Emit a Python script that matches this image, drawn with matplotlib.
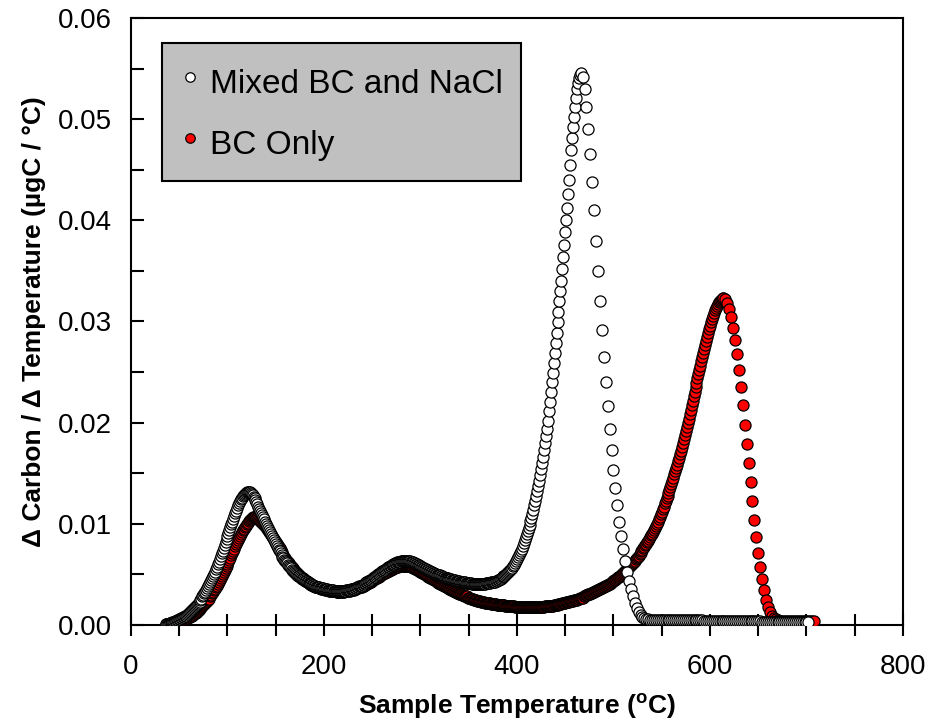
import numpy as np
import matplotlib
matplotlib.use("Agg")
import matplotlib.pyplot as plt
from matplotlib.ticker import MultipleLocator

plt.rcParams['font.family'] = ['Liberation Sans', 'DejaVu Sans']
plt.rcParams['mathtext.fontset'] = 'custom'
plt.rcParams['mathtext.rm'] = 'Liberation Sans'
plt.rcParams['mathtext.bf'] = 'Liberation Sans:bold'

# readings in units of 1e-4 ugC/degC
# mixed: every 1 degC up to the peak, then every 2 degC
mixed_temp = list(range(36, 467)) + list(range(468, 703, 2))
mixed_bc_nacl = [
    1, 1, 1, 1, 2, 2, 2, 3, 3, 3,
    4, 4, 5, 5, 6, 6, 7, 7, 8, 8,
    9, 9, 10, 11, 12, 13, 14, 15, 16, 17,
    18, 19, 20, 21, 22, 23, 25, 26, 28, 29,
    31, 32, 34, 36, 38, 40, 42, 44, 46, 48,
    50, 52, 55, 57, 60, 62, 65, 68, 71, 73,
    76, 79, 82, 85, 88, 91, 94, 97, 100, 102,
    105, 108, 111, 113, 116, 118, 120, 122, 124, 125,
    127, 128, 129, 130, 131, 131, 131, 131, 130, 129,
    128, 126, 125, 123, 121, 119, 117, 115, 113, 111,
    109, 107, 105, 102, 100, 98, 96, 94, 92, 90,
    88, 86, 84, 82, 80, 78, 76, 74, 73, 71,
    69, 67, 66, 64, 63, 62, 61, 59, 58, 57,
    56, 54, 53, 52, 51, 50, 49, 48, 48, 47,
    46, 45, 45, 44, 43, 43, 42, 42, 41, 41,
    40, 40, 39, 39, 38, 38, 37, 37, 37, 37,
    36, 36, 36, 36, 35, 35, 35, 35, 34, 34,
    34, 34, 34, 34, 33, 33, 33, 33, 33, 33,
    33, 33, 33, 33, 33, 33, 33, 34, 34, 34,
    34, 34, 35, 35, 35, 35, 36, 36, 37, 37,
    38, 38, 38, 38, 39, 39, 40, 41, 42, 42,
    43, 43, 44, 44, 45, 46, 47, 47, 48, 49,
    50, 50, 51, 52, 53, 53, 54, 54, 55, 56,
    57, 57, 58, 58, 59, 59, 60, 60, 61, 61,
    62, 62, 62, 62, 63, 63, 63, 63, 63, 63,
    63, 63, 63, 63, 62, 62, 62, 61, 61, 60,
    60, 59, 59, 58, 58, 57, 57, 56, 56, 55,
    55, 54, 54, 53, 53, 52, 52, 51, 51, 50,
    50, 49, 49, 49, 49, 48, 48, 47, 47, 46,
    46, 46, 46, 45, 45, 45, 45, 44, 44, 44,
    44, 43, 43, 43, 43, 42, 42, 42, 42, 42,
    42, 41, 41, 41, 41, 41, 41, 40, 40, 40,
    40, 40, 40, 40, 40, 40, 40, 40, 40, 40,
    40, 40, 41, 41, 41, 41, 41, 42, 42, 42,
    42, 42, 43, 43, 44, 44, 45, 45, 46, 47,
    48, 48, 49, 50, 51, 52, 53, 54, 55, 56,
    58, 59, 61, 63, 65, 67, 69, 71, 73, 75,
    78, 81, 84, 87, 90, 93, 96, 99, 103, 106,
    110, 114, 118, 122, 127, 132, 137, 142, 148, 154,
    160, 166, 173, 180, 187, 194, 202, 211, 220, 230,
    240, 249, 259, 269, 279, 289, 299, 309, 320, 330,
    340, 352, 364, 376, 388, 400, 412, 426, 440, 455,
    470, 481, 492, 502, 512, 521, 530, 536, 541, 544,
    546,
    542, 530, 512, 490, 466, 438, 410, 380, 350, 320,
    292, 265, 240, 216, 194, 173, 153, 135, 118, 102,
    88, 75, 63, 52, 43, 35, 28, 22, 17, 13,
    10, 8, 7, 6, 6, 5, 5, 5, 5, 5,
    5, 5, 5, 5, 5, 5, 5, 5, 5, 5,
    5, 5, 5, 5, 5, 5, 5, 5, 5, 5,
    5, 5, 5, 4, 4, 4, 4, 4, 4, 4,
    4, 4, 4, 4, 4, 4, 4, 4, 4, 4,
    4, 4, 4, 4, 4, 4, 4, 4, 4, 4,
    4, 4, 4, 3, 3, 3, 3, 3, 3, 3,
    3, 3, 3, 3, 3, 3, 3, 3, 3, 3,
    3, 3, 3, 3, 3, 3, 3, 3,
]

# BC only: every 1 degC up to the peak, then every 2 degC
bc_temp = list(range(36, 615)) + list(range(616, 709, 2))
bc_only = [
    1, 1, 1, 1, 2, 2, 2, 2, 2, 2,
    3, 3, 3, 3, 4, 4, 4, 4, 5, 5,
    6, 6, 7, 7, 8, 8, 9, 9, 10, 11,
    12, 12, 13, 14, 15, 16, 17, 18, 19, 20,
    21, 22, 23, 24, 25, 26, 28, 29, 31, 32,
    34, 35, 37, 38, 40, 42, 44, 46, 48, 50,
    52, 54, 56, 58, 60, 62, 64, 66, 69, 71,
    73, 75, 78, 80, 82, 84, 86, 88, 90, 92,
    94, 95, 97, 98, 100, 101, 103, 104, 105, 106,
    107, 107, 107, 107, 106, 106, 105, 104, 103, 102,
    101, 100, 99, 98, 97, 95, 94, 92, 91, 89,
    88, 86, 85, 83, 82, 80, 79, 77, 76, 74,
    72, 70, 69, 67, 66, 64, 63, 62, 61, 59,
    58, 57, 56, 54, 53, 52, 51, 50, 49, 48,
    47, 46, 46, 45, 44, 43, 43, 42, 41, 40,
    40, 39, 39, 38, 38, 37, 37, 37, 37, 36,
    36, 35, 35, 35, 35, 34, 34, 34, 34, 33,
    33, 33, 33, 33, 33, 33, 33, 32, 32, 32,
    32, 32, 32, 32, 32, 32, 33, 33, 33, 33,
    33, 33, 34, 34, 34, 34, 35, 35, 36, 36,
    37, 37, 37, 37, 38, 38, 39, 39, 40, 40,
    41, 41, 42, 42, 43, 44, 45, 45, 46, 46,
    47, 47, 48, 49, 50, 50, 51, 51, 52, 52,
    53, 53, 54, 54, 55, 55, 56, 56, 57, 57,
    57, 57, 58, 58, 58, 58, 58, 58, 58, 58,
    58, 58, 58, 58, 57, 57, 56, 56, 55, 55,
    54, 54, 53, 53, 52, 52, 51, 51, 50, 50,
    49, 48, 47, 47, 46, 46, 45, 45, 44, 44,
    43, 42, 41, 41, 40, 40, 39, 39, 38, 38,
    37, 37, 36, 36, 35, 35, 34, 34, 33, 33,
    32, 32, 31, 31, 30, 30, 30, 29, 29, 28,
    28, 28, 28, 27, 27, 27, 26, 26, 26, 25,
    25, 25, 25, 24, 24, 24, 24, 23, 23, 23,
    23, 22, 22, 22, 22, 22, 22, 21, 21, 21,
    21, 21, 21, 20, 20, 20, 20, 20, 20, 20,
    20, 20, 19, 19, 19, 19, 19, 19, 19, 19,
    19, 19, 18, 18, 18, 18, 18, 18, 18, 18,
    18, 18, 18, 18, 18, 18, 18, 18, 18, 18,
    18, 18, 18, 18, 18, 18, 18, 18, 18, 18,
    18, 18, 18, 19, 19, 19, 19, 19, 19, 19,
    19, 19, 20, 20, 20, 20, 20, 21, 21, 21,
    21, 22, 22, 22, 22, 23, 23, 23, 23, 24,
    24, 24, 24, 25, 25, 25, 25, 26, 26, 27,
    27, 27, 27, 28, 28, 29, 29, 29, 30, 30,
    30, 31, 31, 32, 32, 33, 33, 34, 34, 35,
    35, 36, 36, 37, 37, 38, 38, 39, 39, 40,
    40, 41, 42, 43, 43, 44, 44, 45, 46, 47,
    47, 48, 49, 50, 51, 52, 53, 54, 55, 56,
    57, 58, 59, 60, 61, 62, 63, 65, 66, 67,
    68, 70, 71, 73, 74, 76, 77, 79, 80, 82,
    83, 85, 87, 89, 90, 92, 94, 96, 98, 100,
    102, 105, 107, 110, 112, 115, 117, 120, 122, 125,
    127, 130, 133, 136, 139, 142, 145, 149, 152, 155,
    158, 162, 165, 169, 172, 176, 180, 184, 188, 192,
    196, 200, 204, 208, 212, 217, 221, 226, 230, 235,
    239, 244, 248, 252, 256, 261, 265, 269, 273, 277,
    281, 285, 289, 293, 296, 299, 302, 305, 308, 311,
    313, 315, 317, 319, 320, 321, 322, 323, 323,
    322, 318, 312, 304, 294, 282, 268, 252, 235, 217,
    198, 179, 160, 141, 122, 104, 87, 71, 57, 45,
    34, 25, 18, 13, 9, 7, 6, 5,
    4, 4, 4, 4, 4, 4, 4, 4, 4, 4,
    4, 4, 4, 4, 4, 4, 4, 4, 4,
]

mixed_t = np.array(mixed_temp)
mixed = np.array(mixed_bc_nacl) * 1e-4
bc_t = np.array(bc_temp)
bc = np.array(bc_only) * 1e-4

fig = plt.figure(figsize=(9.29, 7.24), dpi=100)
ax = fig.add_axes([0.141, 0.137, 0.831, 0.838])

ax.scatter(bc_t, bc, s=64, facecolor='red', edgecolor='black', linewidth=0.9,
           label='BC Only', zorder=3)
ax.scatter(mixed_t, mixed, s=64, facecolor='white', edgecolor='black',
           linewidth=0.9, label='Mixed BC and NaCl', zorder=3)

ax.set_xlim(0, 800)
ax.set_ylim(0, 0.06)
ax.xaxis.set_major_locator(MultipleLocator(200))
ax.xaxis.set_minor_locator(MultipleLocator(50))
ax.yaxis.set_major_locator(MultipleLocator(0.01))
ax.yaxis.set_minor_locator(MultipleLocator(0.005))
ax.yaxis.set_major_formatter(plt.FormatStrFormatter('%.2f'))

ax.tick_params(axis='x', which='both', direction='inout', length=16, width=1.5,
               labelsize=20, pad=13)
ax.tick_params(axis='y', which='both', direction='in', length=9, width=1.5,
               labelsize=20, pad=14)
for s in ax.spines.values():
    s.set_linewidth(1.5)

ax.set_xlabel(r'Sample Temperature ($^{\mathbf{o}}$C)', fontsize=19,
              fontweight='bold', labelpad=8)
ax.set_ylabel('\u0394 Carbon / \u0394 Temperature (\u00b5gC / \u00b0C)',
              fontsize=19, fontweight='bold', labelpad=8)

handles, labels = ax.get_legend_handles_labels()
leg = ax.legend(handles[::-1], labels[::-1], loc='upper left',
                bbox_to_anchor=(0.040, 0.959), borderaxespad=0,
                fontsize=24, markerscale=0.85, handlelength=0.6,
                handleheight=1.5, handletextpad=0.3, borderpad=0.55,
                labelspacing=0.61, fancybox=False, framealpha=1,
                facecolor='#c0c0c0', edgecolor='black')
leg.get_frame().set_linewidth(1.5)

fig.savefig('out.png', dpi=100)
